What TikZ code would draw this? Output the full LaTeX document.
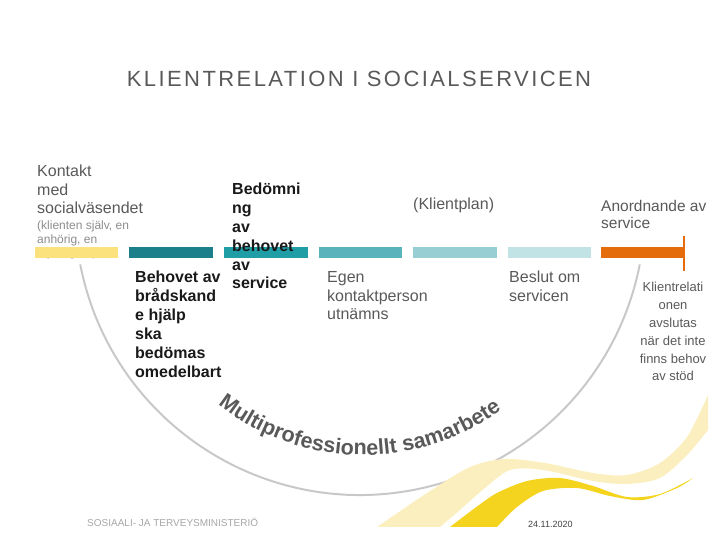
\documentclass[tikz,border=0pt]{standalone}
\usepackage{fontspec}
\setmainfont{Liberation Sans}
\usetikzlibrary{decorations.text}
\definecolor{txtgray}{HTML}{595959}
\definecolor{smallgray}{HTML}{8C8C8C}
\definecolor{footgray}{HTML}{A6A6A6}
\definecolor{arcgray}{HTML}{C8C8C8}
\definecolor{cYellow}{HTML}{FCE27C}
\definecolor{cTealA}{HTML}{1B808A}
\definecolor{cTealB}{HTML}{1F9EA6}
\definecolor{cTealC}{HTML}{58B4BA}
\definecolor{cTealD}{HTML}{97CED3}
\definecolor{cTealE}{HTML}{C1E3E6}
\definecolor{cOrange}{HTML}{E46C0A}
\definecolor{palewave}{HTML}{FBEFC0}
\definecolor{brightwave}{HTML}{F4D41E}
\tikzset{
  barbox/.style={fill=#1},
  graytxt/.style={inner sep=0pt, anchor=base west, align=left, text=txtgray,
    font=\fontsize{16}{18.5}\selectfont},
  boldtxt/.style={inner sep=0pt, anchor=base west, align=left, text=black!90,
    font=\fontsize{16}{19}\selectfont\bfseries},
}
\begin{document}
\begin{tikzpicture}[x=1pt,y=1pt]
\useasboundingbox (0,0) rectangle (720,540);
% title
\node[inner sep=0pt, anchor=base, text=txtgray,
  font=\fontsize{22}{26}\selectfont\addfontfeature{LetterSpace=11}] (title) at (359,453)
  {KLIENTRELATION I SOCIALSERVICEN};
% big gray arc
\draw[arcgray, line width=2pt] (360,330) ++(191:285) arc[start angle=191, end angle=349, radius=285];
% waves
\fill[palewave] plot[smooth] coordinates {(377,13) (427,47) (470,73) (505,81) (545,77) (593,67) (627,65) (660,77) (687,103) (708,145)}
  -- (708,110) -- plot[smooth] coordinates {(708,110) (687,85) (660,62) (627,56) (593,59) (543,70) (510,70) (485,52) (460,30) (440,13)} -- cycle;
\fill[brightwave] plot[smooth] coordinates {(450,13) (475,32) (497,47) (527,59) (560,62) (593,54) (627,43) (660,46) (693,62)}
  -- plot[smooth] coordinates {(693,62) (677,52) (643,40) (610,44) (577,52) (543,49) (517,33) (497,13)} -- cycle;
% curved text
\path[decorate, decoration={text along path, text align=center,
  text={|\fontsize{21.5}{24}\selectfont\bfseries\color{txtgray}|Multiprofessionellt{ }samarbete}}]
  (363,320) ++(231:235) arc[start angle=231, end angle=307, radius=235];
% texts under bars (anchor = baseline of last line)
\node[graytxt] (kontakt) at (37,326) {Kontakt\\med\\socialväsendet};
\node[graytxt, text=smallgray, font=\fontsize{12}{13.5}\selectfont] (klienten) at (37,283)
  {(klienten själv, en\\anhörig, en\\myndighet)};
% bars
\fill[barbox=cYellow] (35,282) rectangle (118,293);
\fill[barbox=cTealA] (129,282) rectangle (213,293);
\fill[barbox=cTealB] (224,282) rectangle (308,293);
\fill[barbox=cTealC] (319,282) rectangle (402,293);
\fill[barbox=cTealD] (413,282) rectangle (497,293);
\fill[barbox=cTealE] (508,282) rectangle (591,293);
\fill[barbox=cOrange] (601,282) rectangle (684,293);
\coordinate (endtop) at (684,304);
\coordinate (endbot) at (684,269);
\draw[cOrange, line width=1.2pt] (endtop) -- (endbot);
% bold texts
\node[boldtxt, font=\fontsize{16}{18.8}\selectfont\bfseries] (bedomning) at (232,251)
  {Bedömni\\ng\\av\\behovet\\av\\service};
\node[boldtxt] (bradskande) at (135,162)
  {Behovet av\\brådskand\\e hjälp\\ska\\bedömas\\omedelbart};
% other gray texts
\node[graytxt] (klientplan) at (413,330) {(Klientplan)};
\node[graytxt] (egen) at (327,220) {Egen\\kontaktperson\\utnämns};
\node[graytxt] (beslut) at (509,238.5) {Beslut om\\servicen};
\node[graytxt, font=\fontsize{15.5}{17}\selectfont] (anordnande) at (601,311) {Anordnande av\\service};
\node[graytxt, anchor=base, align=center, font=\fontsize{13}{17.8}\selectfont] (avslutas) at (673,159)
  {Klientrelati\\onen\\avslutas\\när det inte\\finns behov\\av stöd};
% footer
\node[inner sep=0pt, anchor=base west, text=footgray, font=\fontsize{10}{12}\selectfont] (ministry) at (87,13)
  {SOSIAALI- JA TERVEYSMINISTERIÖ};
\node[inner sep=0pt, anchor=base west, text=black!75, font=\fontsize{9}{11}\selectfont] (date) at (528,12)
  {24.11.2020};
\end{tikzpicture}
\end{document}
